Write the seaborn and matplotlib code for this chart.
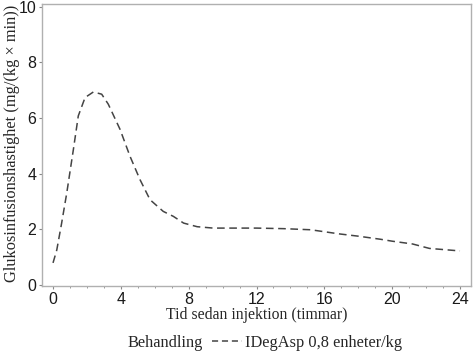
import matplotlib
matplotlib.use("Agg")
import matplotlib.pyplot as plt
import seaborn as sns
import pandas as pd
from matplotlib.lines import Line2D
from matplotlib.ticker import MultipleLocator

hours = [0.0, 0.22, 0.5, 0.81, 1.2, 1.49, 1.89, 2.38, 2.87, 3.26, 3.95, 4.54, 5.13, 5.72,
         6.5, 7.1, 7.7, 8.5, 9.45, 11.0, 12.0, 13.6, 15.2, 16.9, 18.0, 19.3, 20.0,
         21.2, 22.2, 23.0, 24.0]
gir = [0.80, 1.26, 2.2, 3.31, 4.87, 6.08, 6.74, 6.94, 6.86, 6.50, 5.60, 4.63, 3.79, 3.07,
       2.65, 2.47, 2.23, 2.10, 2.05, 2.05, 2.05, 2.03, 1.99, 1.84, 1.76, 1.65, 1.58,
       1.48, 1.32, 1.28, 1.23]
series_label = "IDegAsp 0,8 enheter/kg"
legend_title = "Behandling"
xticks = [0, 4, 8, 12, 16, 20, 24]
yticks = [0, 2, 4, 6, 8, 10]

df = pd.DataFrame({"t": hours, "g": gir})

sns.set_style("white")
fig = plt.figure(figsize=(4.76, 3.55), dpi=100)
ax = fig.add_axes([42/476, 1-286/355, (471-42)/476, (286-4)/355])

sns.lineplot(data=df, x="t", y="g", ax=ax, color="#444444", linewidth=1.1,
             linestyle=(0, (5, 3)), legend=False)

ax.set_xlim(-0.65, 24.65)
ax.set_ylim(-0.03, 10.1)
ax.set_xticks(xticks)
ax.set_yticks(yticks)
ax.xaxis.set_minor_locator(MultipleLocator(1))

tickfont = "Liberation Sans"
serif = "Liberation Serif"
for lab in ax.get_xticklabels() + ax.get_yticklabels():
    lab.set_family(tickfont)
    lab.set_fontsize(11.5)
    lab.set_color("#1a1a1a")

ax.tick_params(axis="both", which="major", direction="out", length=2.5, width=0.8,
               color="#888888", pad=1.5, bottom=True, left=True)
ax.tick_params(axis="x", which="minor", direction="out", length=1.5, width=0.6,
               color="#888888", bottom=True)

for s in ax.spines.values():
    s.set_color("#b0b0b0")
    s.set_linewidth(1.0)

ax.set_xlabel("Tid sedan injektion (timmar)", family=serif, fontsize=11.3, labelpad=0)
ax.set_ylabel("Glukosinfusionshastighet (mg/(kg × min))", family=serif, fontsize=11.8)
ax.yaxis.set_label_coords(-(42-20)/(471-42), 0.505)

fig.text(128/476, 1-343/355, legend_title, family=serif, fontsize=11.8, va="center", ha="left")
h = Line2D([0], [0], color="#444444", linewidth=1.1, linestyle=(0, (4, 2.5)))
fig.legend([h], [series_label], loc="center left", bbox_to_anchor=(212/476, 1-343/355),
           frameon=False, handlelength=1.8, handletextpad=0.2,
           prop={"family": serif, "size": 11.8}, borderaxespad=0, borderpad=0)

fig.savefig("out.png", dpi=100)
